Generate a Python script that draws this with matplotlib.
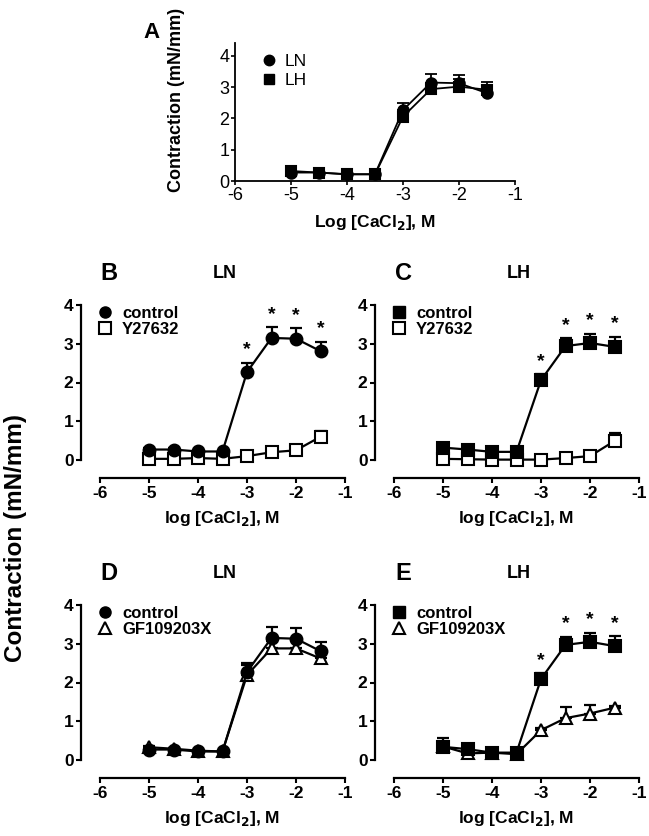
import matplotlib.pyplot as plt
import numpy as np

plt.rcParams['font.family'] = ['Liberation Sans', 'DejaVu Sans']
plt.rcParams['axes.unicode_minus'] = False

# log [CaCl2] concentrations
log_ca = [-5, -4.5, -4, -3.5, -3, -2.5, -2, -1.5]

# LN control (panels A, B, D)
ln_ctrl = [0.27, 0.27, 0.22, 0.22, 2.27, 3.15, 3.13, 2.81]
ln_ctrl_err = [0.03, 0.03, 0.02, 0.02, 0.24, 0.28, 0.27, 0.24]
# LH control (panels A, C)
lh_ctrl = [0.32, 0.27, 0.21, 0.21, 2.06, 2.94, 3.02, 2.92]
lh_ctrl_err = [0.04, 0.03, 0.02, 0.02, 0.16, 0.2, 0.24, 0.26]
# LH control (panel E)
lh_ctrl_e = [0.34, 0.28, 0.19, 0.19, 2.09, 2.97, 3.05, 2.94]
lh_ctrl_e_err = [0.22, 0.04, 0.03, 0.03, 0.15, 0.21, 0.24, 0.26]
# Y27632
ln_y27 = [0.03, 0.03, 0.05, 0.03, 0.1, 0.2, 0.25, 0.6]
ln_y27_err = [0.01, 0.01, 0.01, 0.01, 0.02, 0.03, 0.04, 0.14]
lh_y27 = [0.03, 0.02, 0.01, 0.01, 0.01, 0.05, 0.1, 0.49]
lh_y27_err = [0.01, 0.01, 0.01, 0.01, 0.01, 0.02, 0.03, 0.21]
# GF109203X
ln_gf = [0.33, 0.29, 0.24, 0.22, 2.19, 2.88, 2.88, 2.62]
ln_gf_err = [0.03, 0.03, 0.02, 0.02, 0.25, 0.2, 0.2, 0.18]
lh_gf = [0.35, 0.17, 0.19, 0.15, 0.77, 1.08, 1.2, 1.35]
lh_gf_err = [0.05, 0.03, 0.02, 0.02, 0.06, 0.28, 0.22, 0.05]

W, H = 649, 836
fig = plt.figure(figsize=(W / 100, H / 100), dpi=100)


def px_axes(x0, x1, ytop, ybot):
    return fig.add_axes([x0 / W, 1 - ybot / H, (x1 - x0) / W, (ybot - ytop) / H])


def series(ax, y, err, marker, filled, ms, lw=1.6, z=3):
    fc = 'black' if filled else 'white'
    ax.errorbar(log_ca, y, yerr=[np.zeros(len(err)), err], fmt='none', ecolor='black',
                elinewidth=lw, capsize=4, capthick=lw, zorder=z, clip_on=False)
    ax.plot(log_ca, y, color='black', lw=lw, marker=marker, ms=ms, mfc=fc, mec='black',
            mew=1.5, zorder=z + 0.5, clip_on=False)


def stars(ax, y, err, idx, off=0.33):
    for i in idx:
        ax.text(log_ca[i], y[i] + err[i] + off, '*', ha='center', va='center',
                fontsize=14, fontweight='bold')


# ---- Panel A ----
axA = px_axes(235, 515, 43.5, 181)
series(axA, ln_ctrl, ln_ctrl_err, 'o', True, 7.5, lw=1.3, z=3)
series(axA, lh_ctrl, lh_ctrl_err, 's', True, 7, lw=1.3, z=4)
axA.set_xlim(-6, -1)
axA.set_ylim(0, 4.4)
axA.set_yticks([0, 1, 2, 3, 4])
axA.set_xticks([-6, -5, -4, -3, -2, -1])
for s in ['top', 'right']:
    axA.spines[s].set_visible(False)
for s in ['left', 'bottom']:
    axA.spines[s].set_linewidth(1.3)
axA.tick_params(direction='out', length=3, width=1.2, labelsize=13, pad=1)
axA.set_xlabel('Log [CaCl$_\\mathbf{2}$], M', fontsize=12.5, fontweight='bold', labelpad=7)
axA.set_ylabel('Contraction (mN/mm)', fontsize=13, fontweight='bold')
axA.yaxis.set_label_coords(-0.18, 0.59)
axA.plot([], [], 'o', color='black', ms=7.5, label='LN')
axA.plot([], [], 's', color='black', ms=7, label='LH')
axA.legend(loc='upper left', bbox_to_anchor=(0.03, 1.04), frameon=False, fontsize=12.5,
           handletextpad=0.3, labelspacing=0.25, handlelength=1.2)
fig.text(152 / W, 1 - 32 / H, 'A', fontsize=16, fontweight='bold', ha='center', va='center')


def panel(x0, y0, letter, title, ctrl, ctrl_err, ctrl_marker, other, other_err,
          other_marker, other_label, star_idx):
    ax = px_axes(x0, x0 + 245, y0 - 155, y0)
    series(ax, other, other_err, other_marker, False, 8.5 if other_marker == '^' else 8, z=3)
    series(ax, ctrl, ctrl_err, ctrl_marker, True, 8.5 if ctrl_marker == 'o' else 8, z=4)
    stars(ax, ctrl, ctrl_err, star_idx)
    ax.set_xlim(-6, -1)
    ax.set_ylim(0, 4)
    ax.set_yticks([0, 1, 2, 3, 4])
    ax.set_xticks([-6, -5, -4, -3, -2, -1])
    for s in ['top', 'right']:
        ax.spines[s].set_visible(False)
    ax.spines['left'].set_position(('outward', 13.5))
    ax.spines['bottom'].set_position(('outward', 13))
    ax.spines['left'].set_bounds(0, 4)
    ax.spines['bottom'].set_bounds(-6, -1)
    for s in ['left', 'bottom']:
        ax.spines[s].set_linewidth(1.6)
    ax.tick_params(direction='out', length=3.5, width=1.5, labelsize=12.5, pad=2)
    for lab in ax.get_xticklabels() + ax.get_yticklabels():
        lab.set_fontweight('bold')
    ax.set_xlabel('log [CaCl$_\\mathbf{2}$], M', fontsize=12.5, fontweight='bold', labelpad=6)
    ax.plot([], [], ctrl_marker, color='black', ms=8, label='control')
    ax.plot([], [], other_marker, mfc='white', mec='black', mew=1.5, ms=8.5, label=other_label)
    ax.legend(loc='upper left', bbox_to_anchor=(-0.06, 1.06), frameon=False,
              prop={'weight': 'bold', 'size': 12}, handletextpad=0.4, labelspacing=0.05,
              handlelength=1.2, borderaxespad=0.2)
    fig.text((x0 + 9) / W, 1 - (y0 - 187) / H, letter, fontsize=17, fontweight='bold',
             ha='center', va='center')
    fig.text((x0 + 125) / W, 1 - (y0 - 187) / H, title, fontsize=13, fontweight='bold',
             ha='center', va='center')
    return ax


panel(100, 460, 'B', 'LN', ln_ctrl, ln_ctrl_err, 'o', ln_y27, ln_y27_err, 's', 'Y27632',
      [4, 5, 6, 7])
panel(394, 460, 'C', 'LH', lh_ctrl, lh_ctrl_err, 's', lh_y27, lh_y27_err, 's', 'Y27632',
      [4, 5, 6, 7])
panel(100, 760, 'D', 'LN', ln_ctrl, ln_ctrl_err, 'o', ln_gf, ln_gf_err, '^', 'GF109203X', [])
panel(394, 760, 'E', 'LH', lh_ctrl_e, lh_ctrl_e_err, 's', lh_gf, lh_gf_err, '^', 'GF109203X',
      [4, 5, 6, 7])

fig.text(16 / W, 1 - 538 / H, 'Contraction (mN/mm)', rotation=90, fontsize=17.5,
         fontweight='bold', ha='center', va='center')

fig.savefig('out.png', dpi=100)
